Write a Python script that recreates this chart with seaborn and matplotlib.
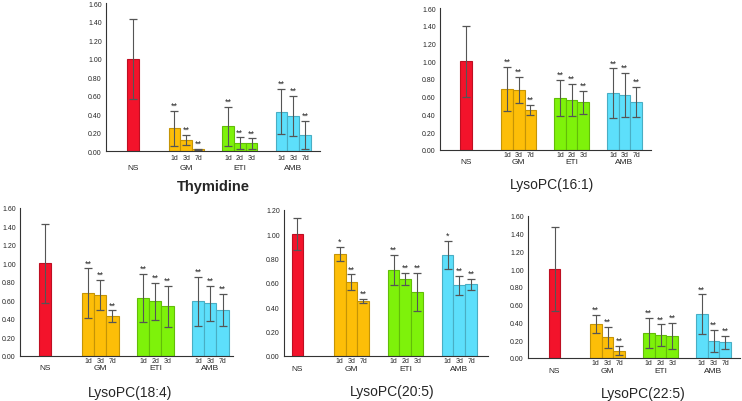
import matplotlib
matplotlib.use("Agg")
import matplotlib.pyplot as plt
import matplotlib.colors as mcolors
import numpy as np
import pandas as pd
import seaborn as sns

# groups and day labels
groups = ["NS", "GM", "ETI", "AMB"]
days = {"GM": ["1d", "3d", "7d"], "ETI": ["1d", "2d", "3d"], "AMB": ["1d", "3d", "7d"]}
colors = {"NS": "#F3132B", "GM": "#FDBE08", "ETI": "#7EF20A", "AMB": "#5DDFFB"}

# relative levels (mean, sd, significance)
thy_mean = [1.00, 0.25, 0.12, 0.02, 0.27, 0.085, 0.085, 0.43, 0.385, 0.175]
thy_sd = [0.43, 0.19, 0.055, 0.01, 0.21, 0.065, 0.055, 0.24, 0.215, 0.15]
thy_sig = ["", "**", "**", "**", "**", "**", "**", "**", "**", "**"]

p161_mean = [1.00, 0.687, 0.676, 0.45, 0.586, 0.563, 0.54, 0.64, 0.62, 0.537]
p161_sd = [0.40, 0.245, 0.145, 0.055, 0.20, 0.18, 0.13, 0.28, 0.245, 0.17]
p161_sig = ["", "**", "**", "**", "**", "**", "**", "**", "**", "**"]

p184_mean = [1.00, 0.675, 0.657, 0.426, 0.625, 0.588, 0.534, 0.588, 0.567, 0.495]
p184_sd = [0.43, 0.27, 0.16, 0.065, 0.265, 0.20, 0.225, 0.265, 0.19, 0.17]
p184_sig = ["", "**", "**", "**", "**", "**", "**", "**", "**", "**"]

p205_mean = [1.00, 0.836, 0.603, 0.45, 0.704, 0.627, 0.523, 0.825, 0.578, 0.586]
p205_sd = [0.13, 0.055, 0.065, 0.02, 0.125, 0.05, 0.155, 0.115, 0.075, 0.045]
p205_sig = ["", "*", "**", "**", "**", "**", "**", "*", "**", "**"]

p225_mean = [1.00, 0.386, 0.232, 0.082, 0.281, 0.258, 0.247, 0.49, 0.195, 0.176]
p225_sd = [0.47, 0.10, 0.12, 0.05, 0.17, 0.12, 0.15, 0.225, 0.125, 0.07]
p225_sig = ["", "**", "**", "**", "**", "**", "**", "**", "**", "**"]

bar_w = 0.22


def make_frame(mean, sd, sig):
    grp, day, pos = ["NS"], [""], [0.0]
    for i, g in enumerate(groups[1:], start=1):
        for k, d in enumerate(days[g]):
            grp.append(g)
            day.append(d)
            pos.append(round(i + (k - 1) * bar_w, 3))
    return pd.DataFrame({"group": grp, "day": day, "pos": pos,
                         "mean": mean, "sd": sd, "sig": sig})


def darker(c, f=0.78):
    r, g, b = mcolors.to_rgb(c)
    return (r * f, g * f, b * f)


def draw_panel(fig, rect, df, ymax, xlim, title, tpos, bold=False,
               day_off=6, grp_off=12, tsize=10):
    ax = fig.add_axes(rect)
    sns.barplot(data=df, x="pos", y="mean", hue="group", palette=colors,
                native_scale=True, dodge=False, width=1.0, errorbar=None,
                legend=False, ax=ax, linewidth=0.8, saturation=1)
    for p in ax.patches:
        p.set_edgecolor(darker(p.get_facecolor()))
    ax.errorbar(df["pos"], df["mean"], yerr=df["sd"], fmt="none",
                ecolor="#555555", elinewidth=0.8, capsize=3, capthick=0.9)
    for _, r in df.iterrows():
        if r["sig"]:
            ax.annotate(r["sig"], xy=(r["pos"], r["mean"] + r["sd"]),
                        xytext=(0, 0.8), textcoords="offset points",
                        ha="center", va="bottom", fontsize=6.5)
        if r["day"]:
            ax.annotate(r["day"], xy=(r["pos"], 0), xycoords=("data", "axes fraction"),
                        xytext=(0, -day_off * 0.72), textcoords="offset points",
                        ha="center", va="center", fontsize=5)
    for i, g in enumerate(groups):
        ax.annotate(g, xy=(i, 0), xycoords=("data", "axes fraction"),
                    xytext=(0, -grp_off * 0.72), textcoords="offset points",
                    ha="center", va="center", fontsize=6)

    ax.set_ylim(0, ymax)
    ax.set_xlim(*xlim)
    ax.set_yticks(np.arange(0, ymax + 0.001, 0.2))
    ax.set_yticklabels([f"{v:.2f}" for v in np.arange(0, ymax + 0.001, 0.2)])
    ax.set_xticks([0.5, 1.5, 2.5])
    ax.set_xticklabels([])
    ax.tick_params(axis="y", direction="in", length=3, width=0.7, labelsize=5, pad=3)
    ax.tick_params(axis="x", direction="in", length=2, width=0.7)
    ax.set_xlabel("")
    ax.set_ylabel("")
    sns.despine(ax=ax)
    for s in ["left", "bottom"]:
        ax.spines[s].set_color("#333333")
        ax.spines[s].set_linewidth(0.8)
    fig.text(tpos[0] / 742, 1 - tpos[1] / 402, title, ha="center", va="center",
             fontsize=tsize, fontweight="bold" if bold else "normal")
    return ax


sns.set_style("white")
plt.rcParams["font.family"] = ["Liberation Sans", "DejaVu Sans"]

fig = plt.figure(figsize=(7.42, 4.02), dpi=100)

draw_panel(fig, [106 / 742, 1 - 152.3 / 402, 214 / 742, 148 / 402],
           make_frame(thy_mean, thy_sd, thy_sig), 1.6, (-0.5, 3.5),
           "Thymidine", (213, 187), bold=True, day_off=6.7, grp_off=16, tsize=10.5)
draw_panel(fig, [440 / 742, 1 - 151 / 402, 211 / 742, 142 / 402],
           make_frame(p161_mean, p161_sd, p161_sig), 1.6, (-0.49, 3.5),
           "LysoPC(16:1)", (552, 185), day_off=5, grp_off=12)
draw_panel(fig, [20 / 742, 1 - 356.7 / 402, 213 / 742, 147.7 / 402],
           make_frame(p184_mean, p184_sd, p184_sig), 1.6, (-0.46, 3.41),
           "LysoPC(18:4)", (130, 393), day_off=5, grp_off=12.3)
draw_panel(fig, [284 / 742, 1 - 356.7 / 402, 204 / 742, 146 / 402],
           make_frame(p205_mean, p205_sd, p205_sig), 1.2, (-0.25, 3.53),
           "LysoPC(20:5)", (392, 392), day_off=5, grp_off=12.5)
draw_panel(fig, [528 / 742, 1 - 359 / 402, 212 / 742, 142.3 / 402],
           make_frame(p225_mean, p225_sd, p225_sig), 1.6, (-0.5, 3.5),
           "LysoPC(22:5)", (643, 394), day_off=5, grp_off=13)

fig.savefig("out.png", dpi=100, facecolor="white")
